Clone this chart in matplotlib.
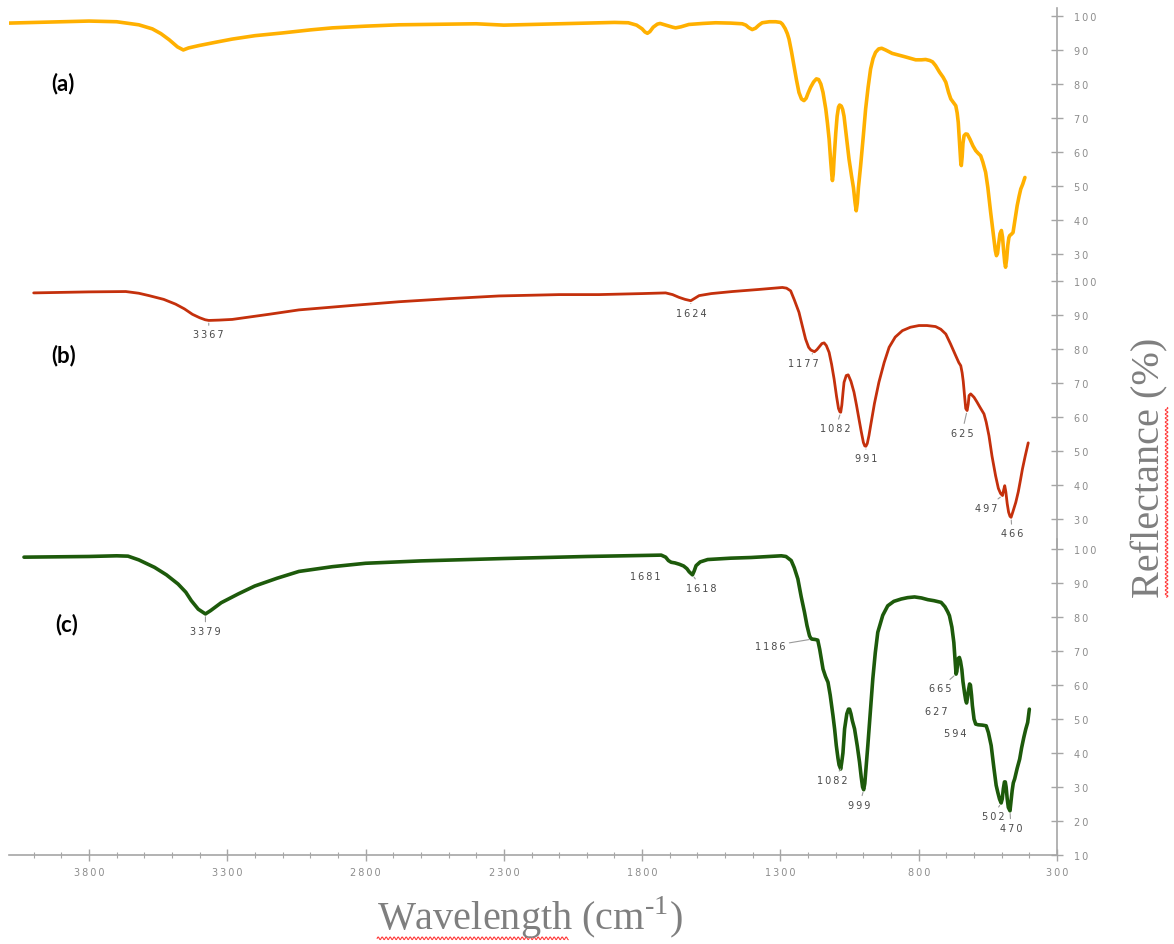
import numpy as np
import matplotlib
matplotlib.use("Agg")
import matplotlib.pyplot as plt
from matplotlib.ticker import MultipleLocator, FuncFormatter
from matplotlib.lines import Line2D

# ---------------------------------------------------------------- data
# FT-IR spectra: wavenumber (cm-1) and reflectance (%)
wn_a = [4090, 3950, 3800, 3700, 3620, 3571, 3540, 3510, 3480, 3459, 3440, 3402,
        3340, 3282, 3200, 3101, 3000, 2920, 2800, 2679, 2500, 2400, 2300, 2200,
        2000, 1900, 1850, 1820, 1800, 1790, 1781, 1772, 1760, 1745, 1735, 1710,
        1690, 1679, 1660, 1631, 1580, 1534, 1480, 1438, 1425, 1415, 1402, 1390,
        1378, 1366, 1340, 1317, 1300, 1293, 1283, 1275, 1269, 1260, 1251, 1242,
        1233, 1224, 1215, 1207, 1200, 1191, 1180, 1170, 1162, 1154, 1146, 1136,
        1130, 1124, 1118, 1114, 1112, 1109, 1106, 1100, 1095, 1090, 1086, 1080,
        1075, 1070, 1062, 1052, 1043, 1036, 1030, 1026, 1022, 1018, 1010, 1000,
        992, 983, 974, 965, 956, 945, 934, 920, 896, 850, 811, 790, 775, 760,
        750, 739, 725, 712, 702, 692, 684, 676, 670, 666, 661, 657, 652, 648,
        646, 643, 640, 636, 630, 624, 615, 604, 594, 585, 576, 568, 558, 550,
        540, 530, 523, 519, 515, 511, 506, 501, 497, 493, 489, 486, 482, 478,
        474, 471, 465, 459, 452, 444, 437, 431, 424, 416]
r_a = [97.9, 98.2, 98.5, 98.3, 97.4, 96.2, 94.8, 93.0, 90.9, 90.0, 90.6, 91.3,
       92.3, 93.2, 94.2, 95.0, 95.9, 96.5, 97.0, 97.4, 97.6, 97.7, 97.3, 97.5,
       97.9, 98.1, 98.0, 97.3, 96.2, 95.3, 94.9, 95.4, 96.7, 97.6, 97.8, 97.2,
       96.7, 96.5, 96.8, 97.5, 97.8, 98.0, 97.9, 97.7, 97.3, 96.6, 96.0, 96.4,
       97.3, 98.0, 98.3, 98.3, 98.1, 97.6, 96.3, 94.8, 93.2, 89.5, 85.4, 81.2,
       77.5, 75.6, 75.1, 75.8, 77.3, 79.0, 80.6, 81.5, 81.3, 80.0, 77.5, 72.6,
       68.5, 63.8, 57.0, 53.0, 51.6, 53.5, 58.0, 65.5, 70.5, 73.2, 73.8, 73.5,
       72.5, 70.5, 65.0, 57.9, 53.0, 49.5, 45.0, 42.7, 45.0, 49.5, 56.0, 65.0,
       72.6, 79.0, 84.4, 87.5, 89.3, 90.3, 90.5, 90.0, 89.0, 88.0, 87.1, 87.1,
       87.2, 86.9, 86.5, 85.4, 83.5, 82.0, 80.5, 77.5, 75.6, 74.7, 74.0, 73.6,
       71.5, 68.7, 62.0, 57.0, 56.0, 58.5, 62.5, 64.8, 65.3, 65.2, 63.8, 61.8,
       60.4, 59.6, 58.9, 57.0, 54.0, 49.5, 42.3, 35.5, 31.0, 29.5, 30.2, 33.0,
       36.0, 36.9, 35.0, 31.0, 27.5, 26.1, 28.5, 32.5, 34.8, 35.4, 35.8, 36.3,
       40.0, 44.2, 47.0, 49.1, 50.5, 52.5]

wn_b = [4000, 3800, 3667, 3620, 3583, 3530, 3487, 3455, 3426, 3400, 3380, 3367,
        3330, 3282, 3150, 3041, 2850, 2679, 2500, 2318, 2100, 1956, 1800, 1715,
        1690, 1667, 1645, 1624, 1610, 1594, 1550, 1474, 1380, 1293, 1278, 1263,
        1250, 1233, 1220, 1209, 1198, 1190, 1177, 1168, 1161, 1150, 1142, 1134,
        1124, 1115, 1106, 1097, 1090, 1085, 1082, 1078, 1074, 1070, 1062, 1055,
        1045, 1034, 1025, 1016, 1008, 1000, 995, 991, 986, 980, 974, 960, 944,
        925, 907, 885, 859, 830, 799, 770, 739, 720, 702, 685, 666, 655, 648,
        643, 639, 634, 630, 625, 621, 618, 612, 606, 600, 590, 578, 564, 556,
        546, 535, 522, 512, 504, 497, 493, 489, 485, 480, 475, 470, 466, 460,
        449, 440, 432, 425, 415, 404]
r_b = [96.5, 96.8, 96.9, 96.4, 95.7, 94.6, 93.2, 91.8, 90.2, 89.2, 88.6, 88.4,
       88.5, 88.7, 90.2, 91.5, 92.8, 93.9, 94.8, 95.6, 96.0, 96.0, 96.3, 96.5,
       96.0, 95.2, 94.6, 94.2, 94.9, 95.7, 96.3, 96.9, 97.5, 98.1, 97.9, 97.1,
       94.5, 90.8, 86.5, 82.9, 80.5, 79.7, 79.2, 79.8, 80.5, 81.6, 81.8, 81.0,
       79.0, 75.5, 71.2, 66.0, 62.5, 61.5, 61.4, 63.5, 67.0, 70.2, 72.2, 72.4,
       70.5, 67.3, 63.5, 59.4, 55.8, 52.5, 51.5, 51.4, 52.2, 54.5, 57.4, 64.0,
       70.2, 76.0, 80.5, 83.5, 85.4, 86.4, 86.9, 86.9, 86.6, 85.8, 84.4, 81.5,
       78.0, 76.0, 75.1, 73.0, 70.5, 66.0, 62.5, 61.9, 63.8, 66.3, 66.8, 66.3,
       65.8, 64.5, 62.8, 60.9, 58.5, 54.5, 48.5, 42.7, 39.0, 37.5, 36.9, 38.5,
       39.8, 38.0, 34.5, 32.0, 30.8, 30.5, 32.0, 34.9, 38.0, 41.5, 44.7, 48.5,
       52.4]

wn_c = [4035, 3800, 3700, 3659, 3620, 3563, 3520, 3478, 3450, 3430, 3405, 3379,
        3360, 3322, 3260, 3201, 3120, 3041, 2920, 2800, 2600, 2300, 2000, 1800,
        1731, 1715, 1705, 1695, 1681, 1665, 1650, 1638, 1630, 1618, 1612, 1605,
        1590, 1563, 1480, 1406, 1297, 1280, 1261, 1250, 1237, 1225, 1213, 1204,
        1195, 1190, 1186, 1175, 1165, 1158, 1146, 1137, 1128, 1120, 1110, 1104,
        1098, 1092, 1088, 1082, 1078, 1074, 1068, 1060, 1054, 1050, 1045, 1040,
        1032, 1022, 1014, 1008, 1003, 999, 995, 992, 988, 984, 975, 966, 957,
        948, 930, 912, 890, 863, 840, 815, 790, 767, 745, 719, 705, 695, 689,
        680, 673, 668, 665, 662, 660, 657, 653, 649, 644, 640, 634, 630, 627,
        624, 620, 616, 613, 609, 606, 600, 594, 585, 570, 556, 548, 538, 528,
        520, 514, 508, 502, 498, 494, 490, 487, 484, 480, 476, 470, 466, 462,
        458, 453, 444, 435, 428, 420, 413, 406, 400]
r_c = [97.6, 97.8, 98.0, 97.9, 96.8, 94.6, 92.4, 89.7, 87.3, 84.8, 82.3, 80.9,
       81.9, 84.2, 86.8, 89.1, 91.4, 93.4, 94.8, 95.8, 96.5, 97.2, 97.8, 98.1,
       98.2, 97.6, 96.6, 96.1, 95.9, 95.5, 95.0, 94.2, 93.3, 92.4, 93.5, 95.1,
       96.2, 96.9, 97.3, 97.5, 98.0, 97.8, 96.6, 94.5, 91.2, 86.0, 81.4, 77.5,
       74.5, 73.7, 73.5, 73.4, 73.2, 70.5, 64.7, 62.5, 60.8, 57.0, 51.0, 47.0,
       42.2, 38.5, 36.5, 35.3, 37.5, 40.0, 47.1, 51.5, 52.9, 52.9, 51.5, 49.5,
       47.1, 42.0, 37.3, 33.0, 30.0, 29.2, 31.0, 34.0, 38.0, 42.2, 52.0, 61.8,
       69.5, 75.5, 80.5, 83.3, 84.6, 85.3, 85.7, 85.9, 85.6, 85.1, 84.8, 84.3,
       83.0, 81.5, 80.4, 77.0, 72.5, 66.5, 63.2, 64.0, 66.0, 67.8, 68.1, 67.0,
       64.5, 61.0, 57.5, 55.5, 54.7, 56.0, 58.5, 60.3, 60.0, 57.0, 54.0, 50.0,
       48.5, 48.3, 48.2, 48.0, 46.0, 42.2, 35.5, 30.5, 28.4, 26.5, 25.3, 26.5,
       29.5, 31.5, 31.5, 30.0, 26.5, 24.0, 23.0, 26.0, 29.0, 31.2, 32.4, 35.5,
       38.2, 41.5, 44.6, 47.0, 49.0, 52.9]

# labelled band positions (cm-1)
peaks_b = [3367, 1624, 1177, 1082, 991, 625, 497, 466]
peaks_c = [3379, 1681, 1618, 1186, 1082, 999, 665, 627, 594, 502, 470]

panel_names = ["(a)", "(b)", "(c)"]
x_label = r"Wavelength (cm$^{\text{-1}}$)"
y_label = "Reflectance (%)"

# ---------------------------------------------------------------- style
W, H = 1174, 945
colors = ["#FFB000", "#C4300C", "#1D5A0B"]
widths = [2.6, 2.0, 2.6]
ylims = [(24.4, 102.4), (21.5, 102.0), (10.0, 103.0)]
# axes rectangles in pixels: (bottom, top) measured from the top edge
rows_px = [(274.0, 8.8), (548.9, 275.2), (856.0, 539.8)]
x_left_px, x_right_px = 9.0, 1057.0
grey = "#a6a6a6"
tick_grey = "#8c8c8c"
thin = "\u2009"

# label offsets (pixels) for band annotations and whether a leader is drawn
offs_b = [(0, -14, True), (0, -12, True), (-11, -11, True), (-5, -16, True),
          (0, -12, True), (-5, -22, True), (-16, -12, True), (1, -16, True)]
offs_c = [(0, -17, True), (-30, -13, False), (9, -13, True), (-42, -7, True),
          (-8, -11, True), (-4, -15, True), (-16, -14, True), (-30, -8, False),
          (-20, -9, False), (-8, -13, True), (1, -17, True)]

plt.rcParams["mathtext.fontset"] = "custom"
plt.rcParams["mathtext.rm"] = "Liberation Serif"

fig = plt.figure(figsize=(W / 100, H / 100), dpi=100)
fig.patch.set_facecolor("white")


def spaced(v, pos=None):
    return thin.join(str(int(round(v))))


x_lo = 300 + (x_right_px - x_left_px) / (968.0 / 3500.0)

axes = []
for i in range(3):
    bot, top = rows_px[i]
    ax = fig.add_axes([x_left_px / W, (H - bot) / H,
                       (x_right_px - x_left_px) / W, (bot - top) / H])
    ax.set_xlim(x_lo, 300)
    ax.set_ylim(*ylims[i])
    ax.patch.set_alpha(0)
    for s in ("left", "top"):
        ax.spines[s].set_visible(False)
    ax.spines["right"].set_color(grey)
    ax.spines["right"].set_linewidth(1.2)
    ax.yaxis.tick_right()
    ax.yaxis.set_major_locator(MultipleLocator(10))
    ax.yaxis.set_major_formatter(FuncFormatter(spaced))
    ax.tick_params(axis="y", direction="inout", length=9, width=1.0,
                   colors=grey, labelcolor=tick_grey, labelsize=7, pad=8)
    if i < 2:
        ax.spines["bottom"].set_visible(False)
        ax.tick_params(axis="x", bottom=False, labelbottom=False)
    else:
        ax.spines["bottom"].set_color(grey)
        ax.spines["bottom"].set_linewidth(1.2)
        ax.xaxis.set_major_locator(MultipleLocator(500, offset=300))
        ax.xaxis.set_minor_locator(MultipleLocator(100))
        ax.xaxis.set_major_formatter(FuncFormatter(spaced))
        ax.tick_params(axis="x", which="major", direction="inout", length=9,
                       width=1.0, colors=grey, labelcolor=tick_grey,
                       labelsize=7, pad=4)
        ax.tick_params(axis="x", which="minor", direction="inout", length=5,
                       width=0.8, colors=grey)
    axes.append(ax)

series = [(wn_a, r_a), (wn_b, r_b), (wn_c, r_c)]
for ax, (wn, r), col, lw in zip(axes, series, colors, widths):
    ax.plot(wn, r, color=col, lw=lw, solid_joinstyle="round",
            solid_capstyle="round", zorder=3)


def annotate_bands(ax, wn, r, peaks, offs):
    wn_arr = np.asarray(wn)[::-1]
    r_arr = np.asarray(r)[::-1]
    for p, (dx, dy, leader) in zip(peaks, offs):
        yv = float(np.interp(p, wn_arr, r_arr))
        kw = dict(xy=(p, yv), xytext=(dx, dy), textcoords="offset pixels",
                  ha="center", va="center", fontsize=7, color="#4a4a4a",
                  family="DejaVu Sans", zorder=4)
        if leader:
            kw["arrowprops"] = dict(arrowstyle="-", color="#9a9a9a", lw=0.8,
                                    shrinkA=1, shrinkB=2)
        ax.annotate(spaced(p), **kw)


annotate_bands(axes[1], wn_b, r_b, peaks_b, offs_b)
annotate_bands(axes[2], wn_c, r_c, peaks_c, offs_c)

# panel letters
for name, (px, py) in zip(panel_names, [(63, 84), (64, 356), (67, 625)]):
    fig.text(px / W, 1 - py / H, name, ha="center", va="center",
             fontsize=16, fontweight="bold", family="Lato", color="black")

# axis titles
serif = dict(family="Liberation Serif", color="#7f7f7f", fontsize=29)
xt = fig.text(530 / W, 1 - 918 / H, x_label, ha="center", va="center", **serif)
yt = fig.text(1150 / W, 1 - 468 / H, y_label, ha="center", va="center",
              rotation=90, **serif)

# red wavy proofing underlines beneath the words
fig.canvas.draw()
rend = fig.canvas.get_renderer()
probe_x = fig.text(0, 0, "Wavelength", alpha=0, **serif)
probe_y = fig.text(0, 0, "Reflectance", alpha=0, **serif)
wx = probe_x.get_window_extent(rend).width
wy = probe_y.get_window_extent(rend).width
bx = xt.get_window_extent(rend)
by = yt.get_window_extent(rend)
probe_x.remove()
probe_y.remove()

t = np.arange(0, wx, 0.5)
wave = 1.3 * np.sin(2 * np.pi * t / 4.0)
fig.add_artist(Line2D((bx.x0 + t) / W, (bx.y0 + 2 + wave) / H,
                      transform=fig.transFigure, color="#ff3b3b", lw=0.8))
t = np.arange(0, wy, 0.5)
wave = 1.3 * np.sin(2 * np.pi * t / 4.0)
fig.add_artist(Line2D((by.x1 - 2 + wave) / W, (by.y0 + t) / H,
                      transform=fig.transFigure, color="#ff3b3b", lw=0.8))

fig.savefig("out.png", dpi=100, facecolor="white")
